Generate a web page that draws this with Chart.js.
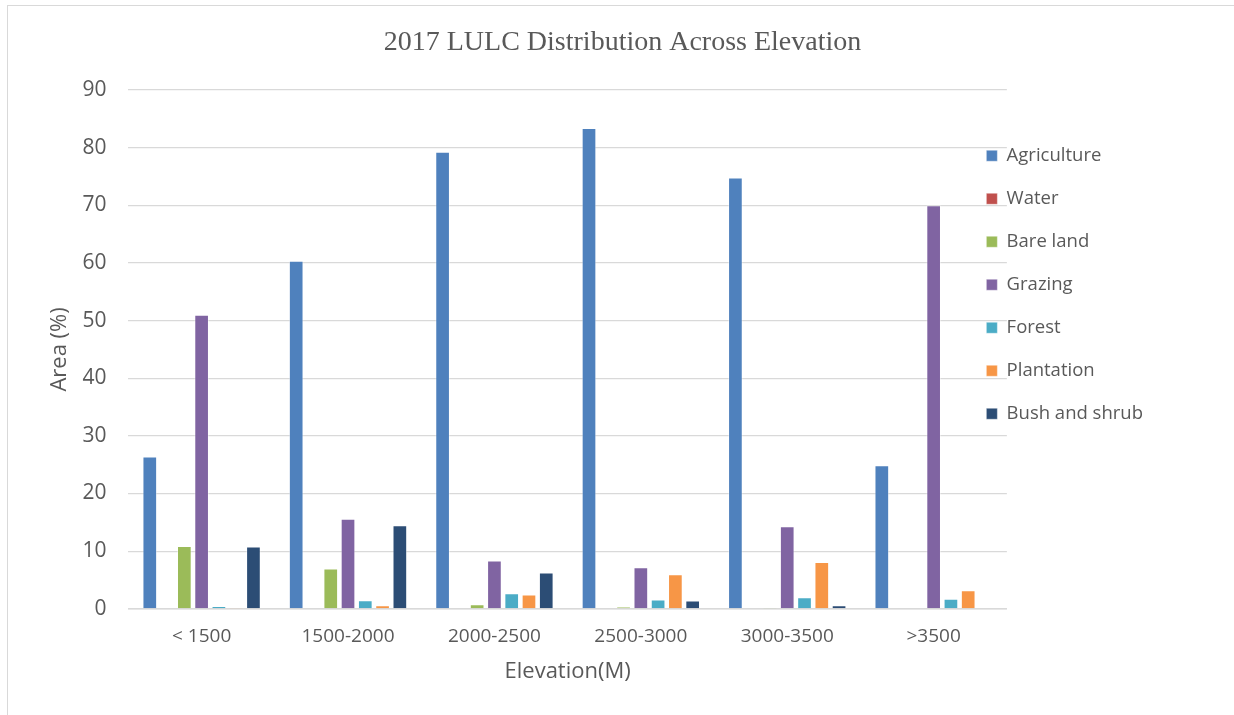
<!DOCTYPE html>
<html>
<head>
<meta charset="utf-8">
<title>2017 LULC Distribution Across Elevation</title>
<script src="https://cdn.jsdelivr.net/npm/chart.js@4/dist/chart.umd.min.js"></script>
<style>
  html, body { margin: 0; padding: 0; background: #ffffff; overflow: hidden; }
  #frame {
    position: absolute; left: 7px; top: 5px; width: 1240px; height: 720px;
    border: 1px solid #d9d9d9; box-sizing: border-box; pointer-events: none;
  }
  #wrap { position: absolute; left: 0; top: 0; width: 1234px; height: 715px; }
</style>
</head>
<body>
<div id="wrap"><canvas id="chart" width="1234" height="715"></canvas></div>
<div id="frame"></div>
<script>
// Elevation bands (m)
const categories = ['< 1500', '1500-2000', '2000-2500', '2500-3000', '3000-3500', '>3500'];

// Share of each land-use / land-cover class per band (%)
const agriculture = [26.4, 60.4, 79.3, 83.4, 74.8, 24.9];
const water       = [0, 0, 0, 0, 0, 0];
const bareLand    = [10.9, 7.0, 0.8, 0.35, 0.15, 0];
const grazing     = [51.0, 15.6, 8.4, 7.2, 14.3, 70.0];
const forest      = [0.5, 1.5, 2.7, 1.6, 2.0, 1.75];
const plantation  = [0.2, 0.6, 2.5, 6.0, 8.1, 3.2];
const bushShrub   = [10.8, 14.5, 6.3, 1.45, 0.6, 0];

const seriesNames = ['Agriculture', 'Water', 'Bare land', 'Grazing', 'Forest', 'Plantation', 'Bush and shrub'];
const seriesData  = [agriculture, water, bareLand, grazing, forest, plantation, bushShrub];
const seriesColors = ['#4F81BD', '#C0504D', '#9BBB59', '#8064A2', '#4BACC6', '#F79646', '#2C4D75'];

const yTicks = { min: 0, max: 90, step: 10 };

const textColor = '#595959';
const gridColor = '#d9d9d9';
const sans = "'Open Sans', 'Liberation Sans', sans-serif";

// Pulls the legend leftwards so it sits over the right end of the gridlines
const legendShift = {
  id: 'legendShift',
  afterLayout(chart) {
    const lg = chart.legend;
    if (!lg) return;
    const dx = 45;
    lg.left -= dx;
    lg.right -= dx;
  }
};

new Chart(document.getElementById('chart'), {
  type: 'bar',
  data: {
    labels: categories,
    datasets: seriesNames.map((name, i) => ({
      label: name,
      data: seriesData[i],
      backgroundColor: seriesColors[i],
      borderColor: 'rgba(255,255,255,0.4)',
      borderWidth: 1,
      categoryPercentage: 0.826,
      barPercentage: 0.85
    }))
  },
  options: {
    responsive: false,
    animation: false,
    layout: { padding: { left: 47, right: 36, top: 14, bottom: 30 } },
    plugins: {
      title: {
        display: true,
        text: '2017 LULC Distribution Across Elevation',
        color: textColor,
        font: { family: "'Liberation Serif', 'Times New Roman', serif", size: 28, weight: 'normal' },
        padding: { top: 12, bottom: 30.4 }
      },
      legend: {
        position: 'right',
        align: 'start',
        title: { display: true, text: ' ', font: { size: 10 }, padding: { top: 96, bottom: 0 } },
        labels: {
          color: textColor,
          font: { family: sans, size: 18.5 },
          boxWidth: 11,
          boxHeight: 11,
          padding: 24.5
        }
      },
      tooltip: { enabled: false }
    },
    scales: {
      x: {
        grid: { display: false, drawTicks: false },
        border: { display: true, color: gridColor, width: 1.5 },
        ticks: { color: textColor, font: { family: sans, size: 19 }, padding: 16 },
        title: {
          display: true, text: 'Elevation(M)', color: textColor,
          font: { family: sans, size: 22 }, padding: { top: -5, bottom: 0 }
        }
      },
      y: {
        min: yTicks.min,
        max: yTicks.max,
        ticks: { stepSize: yTicks.step, color: textColor, font: { family: sans, size: 21 }, padding: 22 },
        grid: { color: gridColor, lineWidth: 1.3, drawTicks: false },
        border: { display: false },
        title: {
          display: true, text: 'Area (%)', color: textColor,
          font: { family: sans, size: 22 }, padding: { top: 0, bottom: -13 }
        }
      }
    }
  },
  plugins: [legendShift]
});
</script>
</body>
</html>
